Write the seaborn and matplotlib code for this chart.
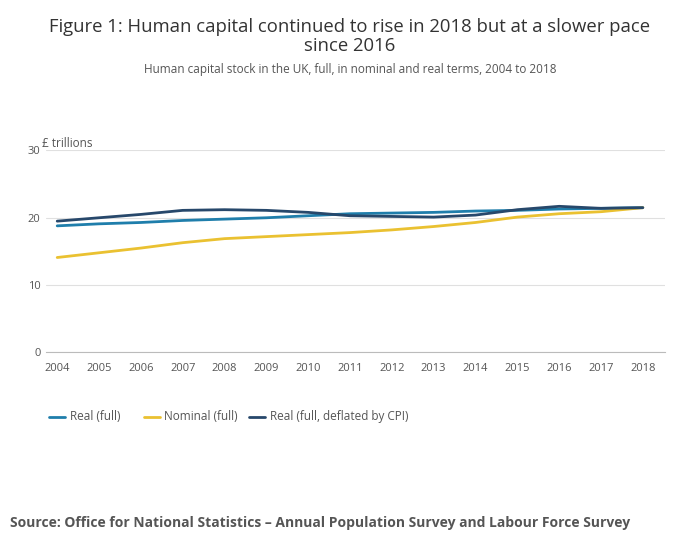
import matplotlib
matplotlib.use("Agg")
import matplotlib.pyplot as plt
import seaborn as sns
import pandas as pd

years = list(range(2004, 2019))
real = [18.8,19.1,19.3,19.6,19.8,20.0,20.3,20.6,20.7,20.8,21.0,21.1,21.3,21.4,21.5]
nominal = [14.1,14.8,15.5,16.3,16.9,17.2,17.5,17.8,18.2,18.7,19.3,20.1,20.6,20.9,21.5]
cpi = [19.5,20.0,20.5,21.1,21.2,21.1,20.8,20.3,20.2,20.1,20.4,21.2,21.7,21.4,21.5]
names = ["Real (full)", "Nominal (full)", "Real (full, deflated by CPI)"]
colors = ["#1f7eab", "#eac131", "#27486b"]

df = pd.DataFrame({"year": years * 3,
                   "value": real + nominal + cpi,
                   "series": sum([[n] * len(years) for n in names], [])})

sns.set_style("white")
plt.rcParams['font.family'] = ['Open Sans', 'DejaVu Sans']
fig = plt.figure(figsize=(7, 5.49), dpi=100)
ax = fig.add_axes([0.065, 0.358, 0.885, 0.368])
sns.lineplot(data=df, x="year", y="value", hue="series", palette=colors, ax=ax, linewidth=2, legend=False)
ax.set_ylim(0, 30)
ax.set_xlim(2003.72, 2018.53)
ax.set_yticks([0, 10, 20, 30])
ax.set_xticks(years)
ax.tick_params(labelsize=8, colors="#555555", length=0)
ax.tick_params(axis="x", length=4, color="#cccccc")
ax.grid(axis="y", color="#e0e0e0", linewidth=0.8)
for s in ["top", "right", "left"]:
    ax.spines[s].set_visible(False)
ax.spines["bottom"].set_color("#bbbbbb")
ax.set_xlabel(""); ax.set_ylabel("")
ax.text(-0.005, 1.0, "£ trillions", transform=ax.transAxes, fontsize=8.5, color="#555555", va="bottom")

fig.text(0.5, 0.968, "Figure 1: Human capital continued to rise in 2018 but at a slower pace\nsince 2016",
         ha="center", va="top", fontsize=13.3, color="#333333", linespacing=1.1)
fig.text(0.5, 0.886, "Human capital stock in the UK, full, in nominal and real terms, 2004 to 2018",
         ha="center", va="top", fontsize=8.5, color="#555555")
xs = [0.07, 0.205, 0.355]
for x, n, c in zip(xs, names, colors):
    fig.add_artist(plt.Line2D([x, x + 0.023], [0.241, 0.241], color=c, linewidth=2))
    fig.text(x + 0.03, 0.241, n, va="center", fontsize=8.5, color="#555555")
fig.text(0.014, 0.048, "Source: Office for National Statistics – Annual Population Survey and Labour Force Survey",
         fontsize=10, fontweight="bold", color="#555555", va="center")
fig.savefig("out.png", dpi=100)
